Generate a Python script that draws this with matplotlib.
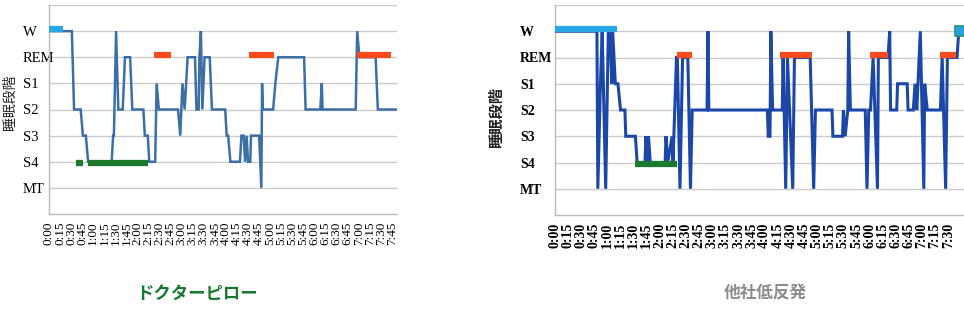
import matplotlib
matplotlib.use("Agg")
import matplotlib.pyplot as plt

plt.rcParams['font.family'] = ['Liberation Serif', 'Noto Sans CJK JP', 'DejaVu Sans']

stage_names = ['MT', 'S4', 'S3', 'S2', 'S1', 'REM', 'W']
stage_val = {n: i for i, n in enumerate(stage_names)}

tick_labels_left = ['%d:%02d' % (m // 60, m % 60) for m in range(0, 466, 15)]
tick_labels_right = ['%d:%02d' % (m // 60, m % 60) for m in range(0, 451, 15)]

# ---- Doctor Pillow (left) : (minute, stage)
left_t = [0, 31, 34, 43, 46, 50, 53, 85, 87, 88, 91, 94, 100, 103, 110, 113, 128, 130, 134, 136,
          144, 146, 149, 175, 178, 181, 184, 188, 198, 200, 203, 204, 206, 208, 211, 218, 221,
          239, 241, 243, 246, 259, 261, 264, 266, 268, 270, 273, 274, 285, 288, 289, 290, 304,
          307, 311, 346, 348, 368, 370, 371, 416, 418, 421, 443, 446, 472]
left_s = ['W', 'W', 'S2', 'S2', 'S3', 'S3', 'S4', 'S4', 'S3', 'S3', 'W', 'S2', 'S2', 'REM', 'REM',
          'S2', 'S2', 'S3', 'S3', 'S4', 'S4', 'S1', 'S2', 'S2', 'S3', 'S1', 'S2', 'REM', 'REM',
          'S2', 'S2', 'REM', 'W', 'S2', 'REM', 'REM', 'S2', 'S2', 'S3', 'S3', 'S4', 'S4', 'S3',
          'S3', 'S4', 'S3', 'S4', 'S4', 'S3', 'S3', 'MT', 'S1', 'S2', 'S2', 'S1', 'REM', 'REM',
          'S2', 'S2', 'S1', 'S2', 'S2', 'W', 'REM', 'REM', 'S2', 'S2']
left_wake_bars = [(0, 19)]
left_deep_bars = [(37, 46), (53, 134)]
left_rem_bars = [(143, 166), (271, 305), (418, 464)]

# ---- Other low-rebound (right)
right_t = [0, 48, 49, 52, 54, 58, 61, 63, 65, 66, 69, 72, 75, 80, 81, 92, 94, 103, 104, 106, 107,
           109, 126, 127, 129, 134, 135, 139, 140, 143, 146, 152, 155, 157, 174, 175, 176, 243,
           244, 246, 247, 249, 260, 261, 264, 266, 272, 274, 292, 296, 298, 317, 318, 329, 330,
           332, 335, 336, 338, 355, 357, 359, 361, 364, 369, 370, 381, 383, 384, 391, 392, 403,
           404, 410, 412, 414, 418, 422, 423, 426, 441, 443, 447, 449, 460, 462]
right_s = ['W', 'W', 'MT', 'S1', 'W', 'MT', 'W', 'W', 'S1', 'W', 'S1', 'S1', 'S2', 'S2', 'S3',
           'S3', 'S4', 'S4', 'S3', 'S4', 'S3', 'S4', 'S4', 'S3', 'S4', 'S3', 'S4', 'REM', 'REM',
           'MT', 'REM', 'REM', 'MT', 'S2', 'S2', 'W', 'S2', 'S2', 'S3', 'S3', 'W', 'S2', 'S2',
           'REM', 'MT', 'REM', 'MT', 'REM', 'REM', 'MT', 'S2', 'S2', 'S3', 'S3', 'S2', 'S3', 'S2',
           'W', 'S2', 'S2', 'MT', 'S2', 'S2', 'REM', 'MT', 'REM', 'REM', 'W', 'S2', 'S2', 'S1',
           'S1', 'S2', 'S2', 'S1', 'S2', 'W', 'MT', 'S1', 'S2', 'S2', 'REM', 'MT', 'REM', 'REM', 'W']
right_wake_bars = [(0, 71)]
right_deep_bars = [(92, 140)]
right_rem_bars = [(140, 157), (258, 294), (361, 381), (441, 459)]
right_end_marker = (461, 'W')

W_PX, H_PX = 964, 311
fig = plt.figure(figsize=(W_PX / 100, H_PX / 100), dpi=100)


def px_axes(x0, x1, y0, y1):
    return fig.add_axes([x0 / W_PX, 1 - y1 / H_PX, (x1 - x0) / W_PX, (y1 - y0) / H_PX])


def style(ax, xmax, labels, bold, ysize, xsize, ypad):
    ax.set_ylim(-1, 7)
    ax.set_xlim(0, xmax)
    for y in range(0, 8):
        ax.axhline(y, color='#cccccc', lw=1.0, zorder=0)
    for s in ['top', 'right']:
        ax.spines[s].set_visible(False)
    for s in ['left', 'bottom']:
        ax.spines[s].set_color('#bbbbbb')
        ax.spines[s].set_linewidth(1.0)
    w = 'bold' if bold else 'normal'
    ax.set_yticks(range(7))
    ax.set_yticklabels(stage_names, fontsize=ysize, fontweight=w, family='Liberation Serif',
                       ha='left')
    ax.set_xticks(range(0, 15 * len(labels), 15))
    ax.set_xticklabels(labels, rotation=90, fontsize=xsize, fontweight=w,
                       family='Liberation Serif', va='top')
    ax.tick_params(length=0)
    ax.tick_params(axis='x', pad=5.5)
    ax.tick_params(axis='y', pad=ypad)


def draw(ax, t, s, color, lw, wake, deep, rem):
    ax.plot(t, [stage_val[v] for v in s], color=color, lw=lw, zorder=3, solid_joinstyle='miter')
    for a, b in wake:
        ax.plot([a, b], [stage_val['W'] + 0.07] * 2, color='#2ba6e4', lw=4.5,
                solid_capstyle='butt', zorder=4)
    for a, b in deep:
        ax.plot([a, b], [stage_val['S4'] - 0.05] * 2, color='#1d7a2c', lw=4.5,
                solid_capstyle='butt', zorder=4)
    for a, b in rem:
        ax.plot([a, b], [stage_val['REM'] + 0.08] * 2, color='#ff4a1c', lw=4.5,
                solid_capstyle='butt', zorder=4)


axL = px_axes(49, 397, 5, 214)
style(axL, 472, tick_labels_left, False, 10.5, 9.5, 19)
draw(axL, left_t, left_s, '#3b6fa6', 1.8, left_wake_bars, left_deep_bars, left_rem_bars)

axR = px_axes(555, 964, 5, 215)
style(axR, 468, tick_labels_right, True, 10, 10, 25)
draw(axR, right_t, right_s, '#1b48a8', 2.2, right_wake_bars, right_deep_bars, right_rem_bars)
axR.plot([right_end_marker[0] + 2], [stage_val[right_end_marker[1]]], marker='s', ms=7,
         mfc='#2a9fe0', mec='#1a9a70', mew=1.2, zorder=5, clip_on=False)

fig.text(10 / W_PX, 1 - 102 / H_PX, '睡眠段階', rotation=90, ha='center', va='center',
         fontsize=10, family=['Noto Sans CJK JP'], color='#222222')
fig.text(496 / W_PX, 1 - 118 / H_PX, '睡眠段階', rotation=90, ha='center', va='center',
         fontsize=11, fontweight='bold', family=['Noto Sans CJK JP'], color='#222222')

fig.text(197 / W_PX, 1 - 294 / H_PX, 'ドクターピロー', ha='center', va='center',
         fontsize=12.5, fontweight='bold', family=['Noto Sans CJK JP'], color='#17782f')
fig.text(765 / W_PX, 1 - 293 / H_PX, '他社低反発', ha='center', va='center',
         fontsize=12, fontweight='bold', family=['Noto Sans CJK JP'], color='#8c8c8c')

fig.savefig('out.png', dpi=100)
